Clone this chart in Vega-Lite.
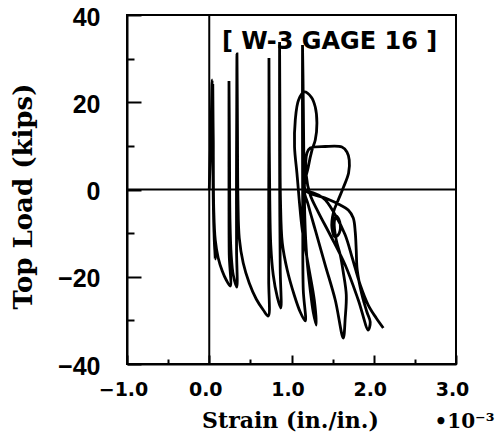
{
  "$schema": "https://vega.github.io/schema/vega-lite/v6.json",
  "width": 329,
  "height": 349,
  "autosize": {"type": "none"},
  "padding": {"left": 127, "top": 15, "right": 43, "bottom": 75},
  "background": "white",
  "config": {"view": {"stroke": "black", "strokeWidth": 2}, "axis": {"grid": false}},
  "title": {"text": "[ W-3 GAGE 16 ]", "anchor": "start", "frame": "group", "orient": "top", "dx": 95, "dy": 29, "offset": -39, "baseline": "alphabetic", "font": "DejaVu Sans", "fontSize": 24, "fontWeight": "bold", "color": "black"},
  "layer": [
    {
      "data": {"values": [
        {"i":1,"s":0,"p":0},{"i":2,"s":0.024,"p":15.93},{"i":3,"s":0.036,"p":25.10},{"i":4,"s":0.049,"p":11.35},{"i":5,"s":0.049,"p":-2.41},{"i":6,"s":0.061,"p":-11.58},{"i":7,"s":0.073,"p":-15.93},{"i":8,"s":0.055,"p":-8.14},{"i":9,"s":0.043,"p":9.05},{"i":10,"s":0.043,"p":24.18},
        {"i":11,"s":0.049,"p":9.05},{"i":12,"s":0.055,"p":-4.70},{"i":13,"s":0.073,"p":-11.58},{"i":14,"s":0.109,"p":-15.70},{"i":15,"s":0.158,"p":-18.68},{"i":16,"s":0.207,"p":-20.75},{"i":17,"s":0.255,"p":-22.12},{"i":18,"s":0.243,"p":-15.01},{"i":19,"s":0.240,"p":-2.41},{"i":20,"s":0.240,"p":13.64},
        {"i":21,"s":0.240,"p":24.87},{"i":22,"s":0.246,"p":9.05},{"i":23,"s":0.252,"p":-6.99},{"i":24,"s":0.267,"p":-15.01},{"i":25,"s":0.292,"p":-19.60},{"i":26,"s":0.334,"p":-22.35},{"i":27,"s":0.332,"p":-13.87},{"i":28,"s":0.331,"p":2.18},{"i":29,"s":0.334,"p":18.22},{"i":30,"s":0.337,"p":31.06},
        {"i":31,"s":0.343,"p":13.64},{"i":32,"s":0.349,"p":-2.41},{"i":33,"s":0.365,"p":-11.12},{"i":34,"s":0.413,"p":-16.85},{"i":35,"s":0.486,"p":-21.43},{"i":36,"s":0.571,"p":-25.10},{"i":37,"s":0.657,"p":-27.62},{"i":38,"s":0.717,"p":-29.00},{"i":39,"s":0.723,"p":-20.75},{"i":40,"s":0.723,"p":-2.41},
        {"i":41,"s":0.726,"p":15.93},{"i":42,"s":0.726,"p":30.14},{"i":43,"s":0.729,"p":13.64},{"i":44,"s":0.736,"p":-2.41},{"i":45,"s":0.748,"p":-12.72},{"i":46,"s":0.778,"p":-19.60},{"i":47,"s":0.827,"p":-24.64},{"i":48,"s":0.869,"p":-27.16},{"i":49,"s":0.863,"p":-18.45},{"i":50,"s":0.857,"p":-2.41},
        {"i":51,"s":0.855,"p":15.93},{"i":52,"s":0.855,"p":33.81},{"i":53,"s":0.860,"p":13.64},{"i":54,"s":0.866,"p":-2.41},{"i":55,"s":0.888,"p":-12.26},{"i":56,"s":0.948,"p":-18.45},{"i":57,"s":1.033,"p":-24.18},{"i":58,"s":1.106,"p":-28.08},{"i":59,"s":1.167,"p":-30.14},{"i":60,"s":1.143,"p":-23.04},
        {"i":61,"s":1.137,"p":-9.28},{"i":62,"s":1.134,"p":9.05},{"i":63,"s":1.134,"p":33.12},{"i":64,"s":1.143,"p":20.52},{"i":65,"s":1.149,"p":9.05},{"i":66,"s":1.155,"p":-0.11},{"i":67,"s":1.167,"p":-9.28},{"i":68,"s":1.191,"p":-16.62},{"i":69,"s":1.228,"p":-23.04},{"i":70,"s":1.264,"p":-28.08},
        {"i":71,"s":1.301,"p":-31.06},{"i":72,"s":1.277,"p":-25.33},{"i":73,"s":1.204,"p":-17.31},{"i":74,"s":1.131,"p":-9.28},{"i":75,"s":1.094,"p":-2.41},{"i":76,"s":1.066,"p":3.78},{"i":77,"s":1.037,"p":9.74},{"i":78,"s":1.046,"p":15.93},{"i":79,"s":1.086,"p":20.52},{"i":80,"s":1.155,"p":22.35},
        {"i":81,"s":1.240,"p":21.20},{"i":82,"s":1.289,"p":18.91},{"i":83,"s":1.309,"p":15.24},{"i":84,"s":1.289,"p":11.35},{"i":85,"s":1.249,"p":9.05},{"i":86,"s":1.204,"p":5.16},{"i":87,"s":1.167,"p":-0.11},{"i":88,"s":1.410,"p":-1.95},{"i":89,"s":1.593,"p":-3.55},{"i":90,"s":1.690,"p":-4.70},
        {"i":91,"s":1.751,"p":-6.53},{"i":92,"s":1.775,"p":-9.74},{"i":93,"s":1.787,"p":-13.87},{"i":94,"s":1.799,"p":-18.45},{"i":95,"s":1.857,"p":-24.18},{"i":96,"s":1.917,"p":-28.08},{"i":97,"s":1.957,"p":-30.37},{"i":98,"s":1.933,"p":-32.21},{"i":99,"s":1.812,"p":-25.33},{"i":100,"s":1.653,"p":-17.31},
        {"i":101,"s":1.471,"p":-10.43},{"i":102,"s":1.325,"p":-5.16},{"i":103,"s":1.228,"p":-1.26},{"i":104,"s":1.179,"p":3.32},{"i":105,"s":1.188,"p":8.37},{"i":106,"s":1.228,"p":9.51},{"i":107,"s":1.410,"p":9.86},{"i":108,"s":1.613,"p":9.74},{"i":109,"s":1.674,"p":8.60},{"i":110,"s":1.702,"p":6.76},
        {"i":111,"s":1.694,"p":3.78},{"i":112,"s":1.633,"p":0.57},{"i":113,"s":1.568,"p":-2.41},{"i":114,"s":1.511,"p":-5.16},{"i":115,"s":1.492,"p":-8.83},{"i":116,"s":1.532,"p":-10.89},{"i":117,"s":1.581,"p":-9.97},{"i":118,"s":1.587,"p":-7.45},{"i":119,"s":1.544,"p":-6.07},{"i":120,"s":1.520,"p":-7.45},
        {"i":121,"s":1.544,"p":-11.58},{"i":122,"s":1.593,"p":-15.01},{"i":123,"s":1.629,"p":-18.91},{"i":124,"s":1.666,"p":-24.18},{"i":125,"s":1.653,"p":-29.46},{"i":126,"s":1.629,"p":-34.04},{"i":127,"s":1.532,"p":-25.33},{"i":128,"s":1.410,"p":-17.31},{"i":129,"s":1.289,"p":-9.28},{"i":130,"s":1.204,"p":-3.55},
        {"i":131,"s":1.167,"p":-0.57},{"i":132,"s":1.386,"p":-1.95},{"i":133,"s":1.532,"p":-5.85},{"i":134,"s":1.653,"p":-10.43},{"i":135,"s":1.739,"p":-15.70},{"i":136,"s":1.836,"p":-21.89},{"i":137,"s":1.933,"p":-26.48},{"i":138,"s":2.030,"p":-29.46},{"i":139,"s":2.116,"p":-31.75}
      ]},
      "mark": {"type": "line", "color": "black", "strokeWidth": 2.8, "interpolate": "catmull-rom", "clip": true},
      "encoding": {
        "x": {"field": "s", "type": "quantitative", "scale": {"domain": [-1, 3], "nice": false, "zero": false},
          "axis": {"orient": "bottom", "values": [-1, 0, 1, 2, 3], "format": ".1f", "tickSize": -9, "tickWidth": 2, "tickColor": "black", "domainColor": "black", "domainWidth": 2,
            "labelFont": "DejaVu Sans", "labelFontSize": 19, "labelFontWeight": "bold", "labelColor": "black", "labelPadding": 25, "labelOffset": -4, "labelFlush": false, "labelBound": false, "labelOverlap": false,
            "title": "Strain (in./in.)", "titleFont": "DejaVu Serif", "titleFontSize": 22, "titleFontWeight": "bold", "titleColor": "black", "titleBaseline": "alphabetic", "titleX": 163, "titleY": 63, "titleAlign": "center"}},
        "y": {"field": "p", "type": "quantitative", "scale": {"domain": [-40, 40], "nice": false, "zero": false},
          "axis": {"orient": "left", "values": [-40, -20, 0, 20, 40], "tickSize": -14, "tickWidth": 2, "tickColor": "black", "domainColor": "black", "domainWidth": 2,
            "labelFont": "Liberation Sans", "labelFontSize": 25, "labelFontWeight": "bold", "labelColor": "black", "labelPadding": 41, "labelOffset": 2, "labelFlush": false, "labelBound": false, "labelOverlap": false,
            "title": "Top Load (kips)", "titleFont": "DejaVu Serif", "titleFontSize": 26, "titleFontWeight": "bold", "titleColor": "black", "titleBaseline": "middle", "titleAngle": -90, "titleX": -104, "titleY": 181, "titleAlign": "center"}},
        "order": {"field": "i", "type": "quantitative"}
      }
    },
    {
      "data": {"values": [{"s": 0}]},
      "mark": {"type": "rule", "color": "black", "strokeWidth": 2},
      "encoding": {
        "x": {"field": "s", "type": "quantitative",
          "axis": {"orient": "bottom", "values": [-0.5, 0.5, 1.5, 2.5], "tickSize": -5, "tickWidth": 2, "tickColor": "black", "labels": false, "domain": false,
            "title": "•10⁻³", "titleFont": "DejaVu Serif", "titleFontSize": 20, "titleFontWeight": "bold", "titleColor": "black", "titleBaseline": "alphabetic", "titleX": 307, "titleY": 63, "titleAlign": "left"}}
      }
    },
    {
      "data": {"values": [{"p": 0}]},
      "mark": {"type": "rule", "color": "black", "strokeWidth": 2},
      "encoding": {
        "y": {"field": "p", "type": "quantitative",
          "axis": {"orient": "left", "values": [-30, -10, 10, 30], "tickSize": -7, "tickWidth": 2, "tickColor": "black", "labels": false, "domain": false, "title": null}}
      }
    }
  ],
  "resolve": {"axis": {"x": "independent", "y": "independent"}}
}
